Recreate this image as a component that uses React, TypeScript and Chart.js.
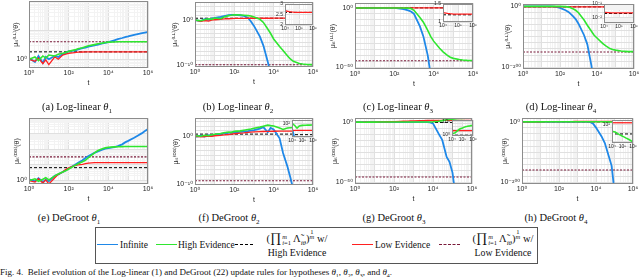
import React, { useEffect, useRef } from 'react';
import { Chart, registerables } from 'chart.js';

Chart.register(...registerables);

// ---------------- DATA ----------------
const T = [1, 2, 3, 5, 7, 10, 20, 30, 50, 70, 100, 200, 300, 500, 700, 1e3, 2e3, 3e3, 5e3, 7e3, 1e4, 2e4, 3e4, 5e4, 7e4, 1e5, 2e5, 3e5, 5e5, 7e5, 1e6];
const T_ENDS = [1, 1e6];

// (a) Log-linear theta1
const LL1_INF = [1.1, 0.8, 1.3, 0.75, 1.2, 1.0, 1.3, 1.2, 1.5, 1.6, 1.9, 2.0, 2.2, 2.4, 2.5, 2.7, 3.0, 3.2, 3.5, 3.7, 3.9, 4.5, 4.9, 5.4, 5.8, 6.1, 6.9, 7.3, 7.9, 8.3, 8.7];
const LL1_HIGH = [1.0, 1.2, 0.9, 1.3, 1.1, 1.4, 1.3, 1.5, 1.6, 1.7, 1.9, 2.1, 2.3, 2.5, 2.7, 2.9, 3.2, 3.4, 3.6, 3.8, 3.9, 3.95, 4.0, 4.0, 4.0, 4.0, 4.0, 4.0, 4.0, 4.0, 4.0];
const LL1_LOW = [1.0, 0.85, 1.1, 0.7, 0.95, 0.65, 1.2, 1.0, 1.4, 1.5, 1.6, 1.7, 1.75, 1.78, 1.8, 1.8, 1.8, 1.8, 1.8, 1.8, 1.8, 1.8, 1.8, 1.8, 1.8, 1.8, 1.8, 1.8, 1.8, 1.8, 1.8];
const LL1_PROD_HIGH = 1.8;
const LL1_PROD_LOW = 4.0;

// (b) Log-linear theta2
const LL2_INF = [1.0, 0.6, 1.5, 1.2, 2, 3, 5, 8, 12, 14, 15, 12, 9, 3, 0.5, 0.05, 2e-4, 2e-6, 5e-10, 1e-12, null, null, null, null, null, null, null, null, null, null, null];
const LL2_HIGH = [1.0, 0.7, 1.2, 2, 1.5, 3, 2, 5, 10, 12, 16, 14, 12, 10, 8, 5, 1.5, 0.3, 0.01, 1e-3, 6e-5, 1.3e-6, 1.6e-7, 1e-8, 2e-9, 6e-10, 2e-10, 1.5e-10, 1.2e-10, 1.1e-10, 1.1e-10];
const LL2_LOW = [1.0, 0.5, 0.8, 0.6, 1.0, 1.2, 1.5, 1.8, 2.0, 2.2, 2.3, 2.4, 2.5, 2.55, 2.6, 2.6, 2.6, 2.6, 2.6, 2.6, 2.68, 2.64, 2.62, 2.6, 2.6, 2.6, 2.6, 2.6, 2.6, 2.6, 2.6];
const LL2_PROD_HIGH = 2.6;
const LL2_PROD_LOW = 1e-10;

// (c) Log-linear theta3
const LL3_INF = [1.0, 1.0, 1.0, 1.0, 1.0, 1.0, 1.0, 1.0, 1.0, 1.0, 1.0, 0.3, 0.1, 1e-2, 1e-3, 1e-5, 2.5e-16, 1e-24, 1e-40, 1e-56, null, null, null, null, null, null, null, null, null, null, null];
const LL3_HIGH = [1.0, 1.0, 1.0, 1.0, 1.0, 1.0, 1.0, 1.0, 1.0, 1.0, 1.0, 1.0, 1.0, 0.7, 0.3, 1e-2, 1e-8, 1e-12, 1e-19, 1e-24, 1e-28, 1e-34, 1e-37, 1e-40, 3e-42, 3e-43, 3e-44, 1.3e-44, 6e-45, 5e-45, 5e-45];
const LL3_LOW = [1.0, 0.9, 1.1, 1.05, 1.15, 1.2, 1.22, 1.22, 1.22, 1.22, 1.22, 1.22, 1.22, 1.22, 1.22, 1.22, 1.22, 1.22, 1.22, 1.22, 1.26, 1.24, 1.23, 1.22, 1.22, 1.22, 1.22, 1.22, 1.22, 1.22, 1.22];
const LL3_PROD_HIGH = 1.2;
const LL3_PROD_LOW = 3e-45;

// (d) Log-linear theta4
const LL4_INF = [1.0, 1.0, 1.0, 1.0, 1.0, 1.0, 1.0, 0.5, 0.1, 3e-3, 1e-5, 1e-13, 1e-19, 1e-32, 1e-42, 1e-57, 1e-95, 1e-125, 1e-195, 1e-260, null, null, null, null, null, null, null, null, null, null, null];
const LL4_HIGH = [1.0, 1.0, 1.0, 1.0, 1.0, 1.0, 1.0, 1.0, 1.0, 1.0, 1.0, 0.1, 3e-3, 1e-8, 1e-13, 1e-21, 1e-45, 1e-62, 1e-82, 1e-95, 1e-104, 1e-122, 1e-130, 1e-139, 1e-142, 1e-144, 1e-147, 1e-148, 1e-149, 1e-149, 1e-149];
const LL4_LOW = [0.03, 0.015, 0.025, 0.018, 0.022, 0.022, 0.022, 0.022, 0.022, 0.022, 0.022, 0.022, 0.022, 0.022, 0.022, 0.022, 0.022, 0.022, 0.022, 0.022, 0.024, 0.023, 0.022, 0.022, 0.022, 0.022, 0.022, 0.022, 0.022, 0.022, 0.022];
const LL4_PROD_HIGH = 0.02;
const LL4_PROD_LOW = 1e-150;

// (e) DeGroot theta1
const DG1_INF = [1.2, 0.9, 1.4, 0.8, 1.1, 0.9, 2, 2.5, 3.5, 4.5, 6, 10, 14, 20, 28, 38, 60, 75, 95, 110, 120, 140, 160, 210, 280, 350, 560, 750, 1100, 1500, 2000];
const DG1_HIGH = [1.0, 1.3, 0.9, 1.2, 1.5, 1.1, 2, 2.6, 3.5, 4.2, 5.5, 9, 12, 16, 20, 30, 60, 85, 110, 125, 135, 145, 148, 150, 152, 152, 152, 152, 152, 152, 152];
const DG1_LOW = [1.0, 0.8, 1.3, 0.7, 1.1, 0.6, 1.5, 2.5, 3.5, 5, 6.5, 9, 10, 11, 12, 13, 14, 14, 14, 14, 14, 14, 14, 14, 14, 14, 14, 14, 14, 14, 14];
const DG1_PROD_HIGH = 6.7;
const DG1_PROD_LOW = 33;

// (f) DeGroot theta2
const DG2_INF = [0.6, 1.0, 0.7, 1.3, 1.0, 1.5, 2.5, 3, 4, 4.5, 5, 6, 7, 9, 11, 14, 30, 60, 5, 40, 20, 0.3, 3e-4, 5e-7, 3e-9, 1e-11, null, null, null, null, null];
const DG2_HIGH = [1.0, 0.8, 1.3, 1.0, 1.6, 2, 3, 4, 6, 5, 8, 10, 14, 20, 25, 35, 60, 90, 150, 120, 100, 40, 20, 40, 45, 50, 52, 53, 54, 55, 55];
const DG2_LOW = [0.8, 0.6, 0.7, 0.9, 0.8, 1.0, 1.2, 1.5, 1.8, 2.2, 2.6, 3.5, 4, 5, 5.5, 6, 7, 7.5, 8, 8.3, 8.5, 9, 9, 9, 9, 9, 9, 9, 9, 9, 9];
const DG2_PROD_HIGH = 2.2;
const DG2_PROD_LOW = 6e-10;

// (g) DeGroot theta3
const DG3_INF = [1.0, 0.9, 1.1, 1.0, 1.05, 0.95, 1.0, 1.0, 1.0, 1.0, 1.0, 1.0, 1.0, 1.0, 1.0, 1.0, 1.0, 1.0, 0.95, 0.8, 0.1, 1e-10, 1e-15, 1e-29, 1e-33, 1e-42, 1e-80, null, null, null, null];
const DG3_HIGH = [1.0, 1.2, 0.9, 1.1, 1.3, 1.0, 1.5, 1.5, 1.5, 1.5, 1.5, 1.5, 1.5, 1.5, 1.5, 1.5, 1.5, 1.5, 1.5, 1.5, 2, 5, 20, 100, 200, 300, 1000, 1500, 2000, 2500, 3000];
const DG3_LOW = [1.0, 0.8, 1.2, 1.0, 1.1, 1.2, 1.5, 1.8, 2.2, 2.6, 3, 4.5, 6, 8, 10, 12, 17, 20, 24, 26, 28, 30, 30, 30, 30, 30, 30, 30, 30, 30, 30];
const DG3_PROD_HIGH = 0.6;
const DG3_PROD_LOW = 2e-46;

// (h) DeGroot theta4
const DG4_INF = [1.0, 1.0, 1.0, 1.0, 1.0, 1.0, 1.0, 1.0, 1.0, 1.0, 1.0, 1.0, 1.0, 1.0, 1.0, 1.0, 1.0, 0.9, 0.1, 1e-6, 1e-19, 1e-48, 1e-70, 1e-115, 1e-145, 1e-230, null, null, null, null, null];
const DG4_HIGH = [1.0, 1.2, 0.9, 1.1, 1.3, 1.0, 1.2, 1.2, 1.2, 1.2, 1.2, 1.2, 1.2, 1.2, 1.2, 1.2, 1.3, 1.3, 1.4, 1.5, 1.5, 1.2, 0.9, 0.6, 0.5, 0.4, 0.25, 0.2, 0.14, 0.11, 0.08];
const DG4_LOW = [1.0, 1.2, 0.9, 1.3, 1.5, 1.8, 2.5, 3, 4, 5, 6, 8, 9, 10, 11, 12, 13, 14, 15, 15, 15, 15, 15, 15, 15, 15, 15, 15, 15, 15, 15];
const DG4_PROD_HIGH = 0.73;
const DG4_PROD_LOW = 1e-159;

// tick labels
const X_TICK_LABELS: [number, string][] = [[1, '10⁰'], [100, '10²'], [1e4, '10⁴'], [1e6, '10⁶']];
const INSET_X_LABELS: [number, string][] = [[1e4, '10⁴'], [1e5, '10⁵'], [1e6, '10⁶']];
const Y_LABELS_A: [number, string][] = [[1, '10⁰']];
const Y_LABELS_B: [number, string][] = [[1, '10⁰'], [1e-10, '10⁻¹⁰']];
const Y_LABELS_C: [number, string][] = [[1, '10⁰'], [1e-50, '10⁻⁵⁰']];
const Y_LABELS_D: [number, string][] = [[1, '10⁰'], [1e-200, '10⁻²⁰⁰']];
const INSET_B_Y: [number, string][] = [[2, '2'], [2.5, '2.5'], [3, '3']];
const INSET_C_Y: [number, string][] = [[1, '1'], [1.5, '1.5']];
const INSET_D_Y: [number, string][] = [[0.1, '10⁻¹'], [0.01, '10⁻²']];
const INSET_F_Y: [number, string][] = [[100, '10²']];
const INSET_G_Y: [number, string][] = [[1e5, '10⁵'], [1, '10⁰']];
const INSET_H_Y: [number, string][] = [[10, '10¹']];

// ---------------- STYLE ----------------
const SANS = '"Liberation Sans", Arial, "DejaVu Sans", sans-serif';
const SERIF = '"Liberation Serif", "Times New Roman", "DejaVu Serif", serif';
const C_INF = '#1f88e8';
const C_HIGH = '#2fe62f';
const C_LOW = '#ff2020';
const C_PH = '#000000';
const C_PL = '#7a1a3a';

type AxisSpec = { type: 'logarithmic' | 'linear'; min: number; max: number; grid: number[]; labels: [number, string][] };
type DS = { xs: number[]; values: (number | null)[]; color: string; width: number; dash?: number[] };
type PanelSpec = {
  left: number; top: number; width: number; height: number;
  padL: number; padR: number; padT: number; padB: number;
  x: AxisSpec; y: AxisSpec; series: DS[]; font: number;
  yTitle?: string; yTitlePad?: number; xTitle?: string; xTitlePad?: number; inset?: boolean;
};

function logGrid(minE: number, maxE: number, step: number, minor: boolean): number[] {
  const out: number[] = [];
  const lo = Math.pow(10, minE) * 0.9999;
  const hi = Math.pow(10, maxE) * 1.0001;
  const start = Math.ceil(minE / step) * step - (minor ? 1 : 0);
  const mults = minor ? [1, 2, 3, 4, 5, 6, 7, 8, 9] : [1];
  for (let e = start; e <= maxE + 0.0001; e += step) {
    for (const m of mults) {
      const v = m * Math.pow(10, e);
      if (v >= lo && v <= hi) out.push(v);
    }
  }
  return out;
}

function series(inf: (number | null)[], high: (number | null)[], low: (number | null)[], prodHigh: number, prodLow: number): DS[] {
  return [
    { xs: T, values: high, color: C_HIGH, width: 1.6 },
    { xs: T, values: low, color: C_LOW, width: 1.3 },
    { xs: T, values: inf, color: C_INF, width: 1.8 },
    { xs: T_ENDS, values: [prodLow, prodLow], color: C_PL, width: 1.1, dash: [2, 1.5] },
    { xs: T_ENDS, values: [prodHigh, prodHigh], color: C_PH, width: 1, dash: [3, 2] },
  ];
}

const keyOf = (type: string, v: number) => (type === 'logarithmic' ? Math.round(Math.log10(v) * 1000) : Math.round(v * 1000));
const isMajor = (ax: AxisSpec, v: number) => {
  if (ax.type === 'logarithmic') { const l = Math.log10(v); return Math.abs(l - Math.round(l)) < 1e-6; }
  return ax.labels.some((l) => Math.abs(l[0] - v) < 1e-9);
};

function axisOptions(ax: AxisSpec, horizontal: boolean, fixed: number, font: number, title?: string, titlePad?: number) {
  const labelMap = new Map<number, string>(ax.labels.map(([v, l]) => [keyOf(ax.type, v), l]));
  const vals = [...ax.grid];
  ax.labels.forEach(([v]) => { if (!vals.some((g) => keyOf(ax.type, g) === keyOf(ax.type, v))) vals.push(v); });
  vals.sort((a, b) => a - b);
  return {
    type: ax.type,
    min: ax.min,
    max: ax.max,
    position: horizontal ? 'bottom' : 'left',
    afterBuildTicks: (s: any) => { s.ticks = vals.map((v) => ({ value: v })); },
    afterFit: (s: any) => { if (horizontal) s.height = fixed; else s.width = fixed; },
    ticks: {
      autoSkip: false, maxRotation: 0, minRotation: 0, padding: horizontal ? 1 : 2,
      font: { family: SANS, size: font }, color: '#262626',
      callback: (v: number) => labelMap.get(keyOf(ax.type, v)) ?? '',
    },
    grid: {
      drawTicks: false, lineWidth: 1,
      color: (ctx: any) => (ctx.tick && isMajor(ax, ctx.tick.value) ? '#e0e0e0' : '#f3f3f3'),
    },
    border: { display: false },
    title: title
      ? { display: true, text: title, color: '#262626', font: { family: SANS, size: 7 }, padding: horizontal ? { top: 0, bottom: titlePad ?? 0 } : { top: titlePad ?? 0, bottom: 0 } }
      : { display: false },
  };
}

function PlotCanvas({ spec }: { spec: PanelSpec }) {
  const ref = useRef<HTMLCanvasElement>(null);
  const w = spec.width + spec.padL + spec.padR;
  const h = spec.height + spec.padT + spec.padB;
  useEffect(() => {
    const canvas = ref.current;
    if (!canvas) return;
    const framePlugin = {
      id: 'frame',
      beforeDraw(chart: any) {
        if (!spec.inset) return;
        const a = chart.chartArea; const c = chart.ctx;
        c.save(); c.fillStyle = '#ffffff'; c.fillRect(a.left, a.top, a.right - a.left, a.bottom - a.top); c.restore();
      },
      afterDraw(chart: any) {
        const a = chart.chartArea; const c = chart.ctx;
        c.save(); c.strokeStyle = '#8c8c8c'; c.lineWidth = 1;
        c.strokeRect(Math.round(a.left) + 0.5, Math.round(a.top) + 0.5, Math.round(a.right - a.left) - 1, Math.round(a.bottom - a.top) - 1);
        c.restore();
      },
    };
    const chart = new Chart(canvas, {
      type: 'line',
      data: {
        datasets: spec.series.map((s) => ({
          data: s.xs.map((x, i) => ({ x, y: s.values[i] })),
          borderColor: s.color, backgroundColor: s.color, borderWidth: s.width,
          borderDash: s.dash ?? [], pointRadius: 0, fill: false, tension: 0, spanGaps: false,
        })),
      },
      options: {
        responsive: false, animation: false, maintainAspectRatio: false, events: [],
        layout: { padding: { left: 0, right: spec.padR, top: spec.padT, bottom: 0 } },
        plugins: { legend: { display: false }, tooltip: { enabled: false } },
        scales: {
          x: axisOptions(spec.x, true, spec.padB, spec.font, spec.xTitle, spec.xTitlePad),
          y: axisOptions(spec.y, false, spec.padL, spec.font, spec.yTitle, spec.yTitlePad),
        },
      } as any,
      plugins: [framePlugin],
    });
    return () => chart.destroy();
  }, [spec]);
  return (
    <canvas ref={ref} width={w} height={h}
      style={{ position: 'absolute', left: spec.left - spec.padL, top: spec.top - spec.padT, width: w, height: h }} />
  );
}

// ---------------- PANELS ----------------
const X_MAIN: AxisSpec = { type: 'logarithmic', min: 1, max: 1e6, grid: logGrid(0, 6, 1, true), labels: X_TICK_LABELS };
const X_INSET: AxisSpec = { type: 'logarithmic', min: 1e4, max: 1e6, grid: logGrid(4, 6, 1, true), labels: INSET_X_LABELS };
const LL_TITLE = 'μᵢₜ⁽ᴸᴸ⁾(θ)';
const DG_TITLE = 'μᵢₜ⁽ᴰᴳ⁾(θ)';

const S_A = series(LL1_INF, LL1_HIGH, LL1_LOW, LL1_PROD_HIGH, LL1_PROD_LOW);
const S_B = series(LL2_INF, LL2_HIGH, LL2_LOW, LL2_PROD_HIGH, LL2_PROD_LOW);
const S_C = series(LL3_INF, LL3_HIGH, LL3_LOW, LL3_PROD_HIGH, LL3_PROD_LOW);
const S_D = series(LL4_INF, LL4_HIGH, LL4_LOW, LL4_PROD_HIGH, LL4_PROD_LOW);
const S_E = series(DG1_INF, DG1_HIGH, DG1_LOW, DG1_PROD_HIGH, DG1_PROD_LOW);
const S_F = series(DG2_INF, DG2_HIGH, DG2_LOW, DG2_PROD_HIGH, DG2_PROD_LOW);
const S_G = series(DG3_INF, DG3_HIGH, DG3_LOW, DG3_PROD_HIGH, DG3_PROD_LOW);
const S_H = series(DG4_INF, DG4_HIGH, DG4_LOW, DG4_PROD_HIGH, DG4_PROD_LOW);

const mainPanel = (left: number, top: number, width: number, height: number, y: AxisSpec, s: DS[], title: string, titleOffset: number): PanelSpec => ({
  left, top, width, height, padL: 26, padR: 9, padT: 6, padB: 20, x: X_MAIN, y, series: s, font: 7,
  yTitle: title, yTitlePad: Math.max(0, 26 - 4.2 - titleOffset), xTitle: 't', xTitlePad: 0.8,
});
const insetPanel = (left: number, top: number, width: number, height: number, y: AxisSpec, s: DS[]): PanelSpec => ({
  left, top, width, height, padL: 14, padR: 6, padT: 3, padB: 8, x: X_INSET, y, series: s, font: 5, inset: true,
});

const PANELS: PanelSpec[] = [
  mainPanel(29, 1, 119, 67, { type: 'logarithmic', min: 0.5, max: 100, grid: logGrid(-0.3, 2, 1, true), labels: Y_LABELS_A }, S_A, LL_TITLE, 13),
  mainPanel(195, 2, 118, 65, { type: 'logarithmic', min: 3.2e-11, max: 1e4, grid: logGrid(-10.5, 4, 1, false), labels: Y_LABELS_B }, S_B, LL_TITLE, 20),
  mainPanel(355, 3, 118, 66, { type: 'logarithmic', min: 3.2e-52, max: 1e4, grid: logGrid(-51.5, 4, 5, false), labels: Y_LABELS_C }, S_C, LL_TITLE, 22),
  mainPanel(523, 4, 111, 65, { type: 'logarithmic', min: 1e-206, max: 1e7, grid: logGrid(-206, 7, 20, false), labels: Y_LABELS_D }, S_D, LL_TITLE, 15),
  mainPanel(29, 118, 119, 66, { type: 'logarithmic', min: 0.63, max: 1e4, grid: logGrid(-0.2, 4, 1, true), labels: Y_LABELS_A }, S_E, DG_TITLE, 12),
  mainPanel(195, 118, 118, 67, { type: 'logarithmic', min: 8e-11, max: 4000, grid: logGrid(-10.1, 3.6, 1, false), labels: Y_LABELS_B }, S_F, DG_TITLE, 19),
  mainPanel(355, 118, 117, 66, { type: 'logarithmic', min: 3.2e-52, max: 2000, grid: logGrid(-51.5, 3.3, 5, false), labels: Y_LABELS_C }, S_G, DG_TITLE, 20),
  mainPanel(522, 118, 111, 66, { type: 'logarithmic', min: 1e-205, max: 1e12, grid: logGrid(-205, 12, 20, false), labels: Y_LABELS_D }, S_H, DG_TITLE, 17),
];

const INSETS: PanelSpec[] = [
  insetPanel(285, 2, 28, 23, { type: 'linear', min: 2, max: 3, grid: [2, 2.25, 2.5, 2.75, 3], labels: INSET_B_Y }, S_B),
  insetPanel(443, 2, 30, 20, { type: 'linear', min: 1, max: 1.5, grid: [1, 1.25, 1.5], labels: INSET_C_Y }, S_C),
  insetPanel(604, 2, 30, 21, { type: 'logarithmic', min: 0.004, max: 0.1, grid: logGrid(-2.4, -1, 1, true), labels: INSET_D_Y }, S_D),
  insetPanel(292, 118, 21, 19, { type: 'logarithmic', min: 1, max: 300, grid: logGrid(0, 2.48, 1, false), labels: INSET_F_Y }, S_F),
  insetPanel(452, 118, 21, 18, { type: 'logarithmic', min: 0.316, max: 3.16e5, grid: logGrid(-0.5, 5.5, 1, false), labels: INSET_G_Y }, S_G),
  insetPanel(612, 118, 21, 25, { type: 'logarithmic', min: 0.063, max: 31.6, grid: logGrid(-1.2, 1.5, 1, false), labels: INSET_H_Y }, S_H),
];

const CAPTIONS: { cx: number; cy: number; tag: string; name: string; k: string }[] = [
  { cx: 77, cy: 107, tag: '(a)', name: 'Log-linear', k: '1' },
  { cx: 238, cy: 107, tag: '(b)', name: 'Log-linear', k: '2' },
  { cx: 398, cy: 107, tag: '(c)', name: 'Log-linear', k: '3' },
  { cx: 561, cy: 107, tag: '(d)', name: 'Log-linear', k: '4' },
  { cx: 69, cy: 218, tag: '(e)', name: 'DeGroot', k: '1' },
  { cx: 229, cy: 218, tag: '(f)', name: 'DeGroot', k: '2' },
  { cx: 394, cy: 218, tag: '(g)', name: 'DeGroot', k: '3' },
  { cx: 556, cy: 218, tag: '(h)', name: 'DeGroot', k: '4' },
];

function Sample({ x, color, dashed, w = 21 }: { x: number; color: string; dashed?: boolean; w?: number }) {
  return <div style={{ position: 'absolute', left: x, top: 244, width: w, height: 0, borderTop: `1.5px ${dashed ? 'dashed' : 'solid'} ${color}` }} />;
}

function ProdExpr() {
  return (
    <span style={{ whiteSpace: 'nowrap' }}>
      (<span style={{ fontSize: 13.5 }}>∏</span>
      <span style={{ display: 'inline-block', verticalAlign: 'middle', fontSize: 6.5, lineHeight: '6px', textAlign: 'left', marginLeft: 1 }}>
        <i>m</i><br /><i>i</i>=1
      </span>
      {' '}Λ̃<sub style={{ fontSize: 7 }}><i>i</i><i>θ</i></sub>)
      <span style={{ display: 'inline-block', verticalAlign: 'top', fontSize: 6.5, lineHeight: '5px', textAlign: 'center', marginTop: -1 }}>
        1<br /><i>m</i>
      </span>
      {' '}w/
    </span>
  );
}

function MathEntry({ left, second }: { left: number; second: string }) {
  return (
    <div style={{ position: 'absolute', left, top: 230, width: 86, fontSize: 10.5, textAlign: 'center' }}>
      <div style={{ height: 15, lineHeight: '15px' }}><ProdExpr /></div>
      <div style={{ height: 15, lineHeight: '15px', fontSize: 9.8 }}>{second}</div>
    </div>
  );
}

const TXT = (left: number, text: string) => (
  <div style={{ position: 'absolute', left, top: 239, fontSize: 9.5, lineHeight: '12px', whiteSpace: 'nowrap' }}>{text}</div>
);

export default function App() {
  useEffect(() => { document.body.style.margin = '0'; }, []);
  return (
    <div style={{ position: 'fixed', left: 0, top: 0, width: 640, height: 277, overflow: 'hidden', background: '#ffffff', fontFamily: SERIF, color: '#111' }}>
      {PANELS.map((p, i) => <PlotCanvas key={'p' + i} spec={p} />)}
      {INSETS.map((p, i) => <PlotCanvas key={'i' + i} spec={p} />)}
      {CAPTIONS.map((c) => (
        <div key={c.tag} style={{ position: 'absolute', left: c.cx - 70, top: c.cy - 7, width: 140, textAlign: 'center', fontSize: 10.5, lineHeight: '14px', whiteSpace: 'nowrap' }}>
          {c.tag} {c.name} <i>θ</i><sub style={{ fontSize: 7 }}>{c.k}</sub>
        </div>
      ))}
      <div style={{ position: 'absolute', left: 95, top: 227, width: 443, height: 37, border: '1px solid #555', boxSizing: 'border-box' }} />
      <Sample x={97} color={C_INF} />
      {TXT(120, 'Infinite')}
      <Sample x={156} color={C_HIGH} />
      {TXT(178, 'High Evidence')}
      <Sample x={235} color={C_PH} dashed w={18} />
      <MathEntry left={254} second="High Evidence" />
      <Sample x={352} color={C_LOW} />
      {TXT(375, 'Low Evidence')}
      <Sample x={439} color={C_PL} dashed />
      <MathEntry left={460} second="Low Evidence" />
      <div style={{ position: 'absolute', left: 0, top: 267, fontSize: 9, lineHeight: '11px', whiteSpace: 'nowrap' }}>
        Fig. 4.&nbsp;&nbsp;Belief evolution of the Log-linear (1) and DeGroot (22) update rules for hypotheses <i>θ</i><sub style={{ fontSize: 6 }}>1</sub>, <i>θ</i><sub style={{ fontSize: 6 }}>2</sub>, <i>θ</i><sub style={{ fontSize: 6 }}>3</sub>, and <i>θ</i><sub style={{ fontSize: 6 }}>4</sub>.
      </div>
    </div>
  );
}
